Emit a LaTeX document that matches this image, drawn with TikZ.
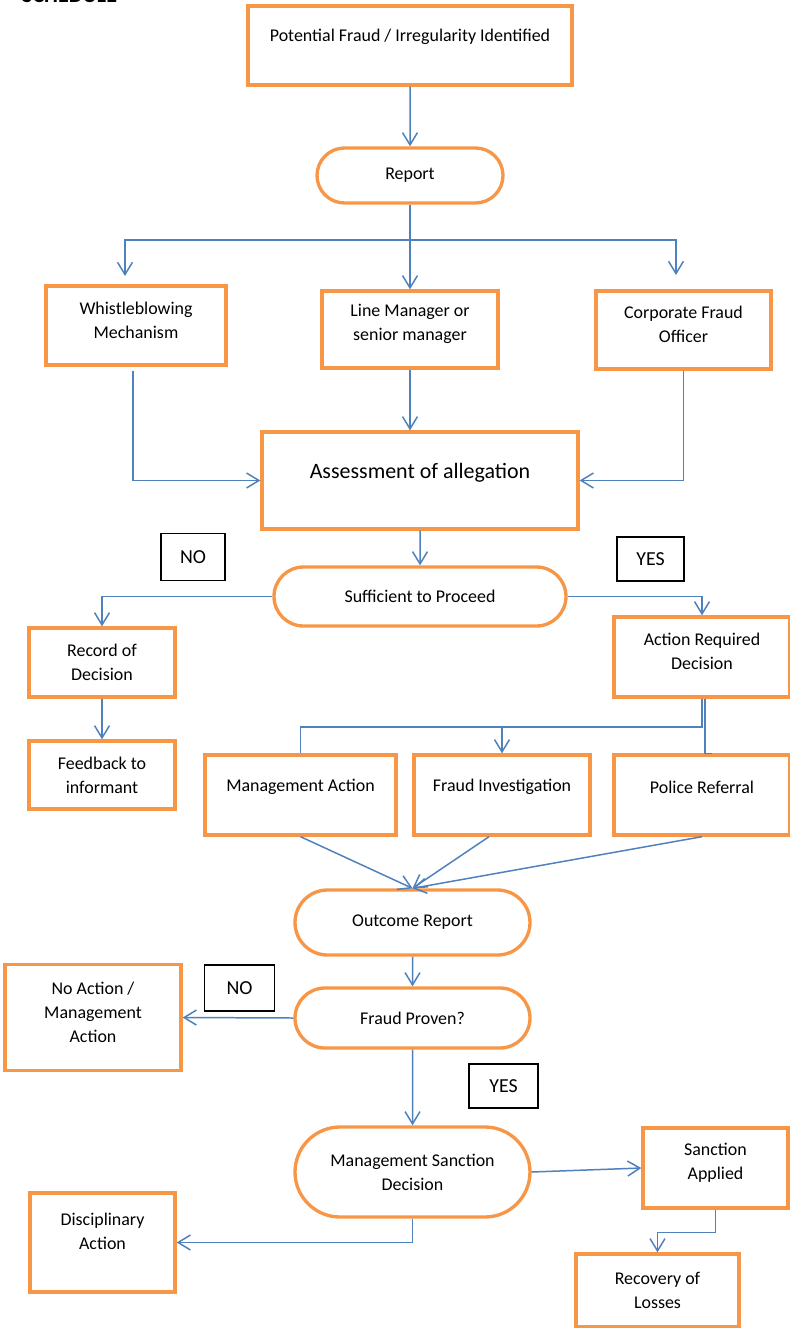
\documentclass[tikz,border=0pt]{standalone}
\usepackage{fontspec}
\setmainfont{Carlito}
\usepackage{xcolor}
\definecolor{boxorange}{HTML}{F79646}
\definecolor{linkblue}{HTML}{4F81BD}
\usepackage{tikz}
\usetikzlibrary{positioning, arrows.meta, shapes.misc}

\tikzset{
  box/.style={draw=boxorange, line width=1.9pt, inner sep=0pt},
  stadium/.style={box, rounded rectangle, txt},
  tag/.style={draw=black, line width=0.8pt, inner sep=0pt, font=\fontsize{11.3}{13}\selectfont},
  txt/.style={align=center, font=\fontsize{10.2}{13.6}\selectfont},
  bigtxt/.style={align=center, font=\fontsize{12.5}{15}\selectfont},
  link/.style={draw=linkblue, line width=0.85pt},
  arr/.style={link, -{Straight Barb[length=7pt, width=8.5pt]}}
}

\begin{document}
\begin{tikzpicture}[x=0.02cm, y=-0.02cm]
  \def\pw{0.02cm}
  \useasboundingbox (0,0) rectangle (790,1328);
  \node[anchor=base west, font=\bfseries\fontsize{12.5}{15}\selectfont] (title) at (16,3) {SCHEDULE};

  % top part
  \node[box, minimum width=324*\pw, minimum height=79*\pw,
        label={[txt, yshift=8.5*\pw]center:Potential Fraud / Irregularity Identified}] (potential) at (410,45.5) {};
  \node[stadium, minimum width=186*\pw, minimum height=55*\pw] (report) at (410,175.5) {Report};
  \node[box, minimum width=180*\pw, minimum height=79*\pw,
        label={[txt, yshift=5.5*\pw]center:Whistleblowing\\Mechanism}] (whistle) at (136,325.5) {};
  \node[box, minimum width=176*\pw, minimum height=77*\pw,
        label={[txt, yshift=5.5*\pw]center:Line Manager or\\senior manager}] (linemgr) at (410,329.5) {};
  \node[box, minimum width=175*\pw, minimum height=78*\pw,
        label={[txt, yshift=6*\pw]center:Corporate Fraud\\Officer}] (corporate) at (683.5,330) {};
  \node[box, minimum width=316*\pw, minimum height=97*\pw,
        label={[bigtxt, yshift=8*\pw]center:Assessment of allegation}] (assess) at (420,480.5) {};

  \coordinate (split) at (410,240);
  \coordinate (wtip) at (125,276);
  \coordinate (ctip) at (676,275);
  \draw[arr] (potential) -- (report);
  \draw[arr] (report.south) -- (linemgr.north);
  \draw[arr] (split) -| (wtip);
  \draw[arr] (split) -| (ctip);
  \draw[arr] ([xshift=-3*\pw, yshift=-4*\pw]whistle.south) |- (assess.west);
  \draw[arr] (linemgr.south) -- (linemgr.south |- assess.north);
  \draw[arr] (corporate.south) |- (assess.east);

  % first decision
  \node[stadium, minimum width=292*\pw, minimum height=59*\pw] (sufficient) at (420,596.5) {Sufficient to Proceed};
  \node[tag, minimum width=64*\pw, minimum height=47*\pw] (no1) at (193,557) {NO};
  \node[tag, minimum width=67*\pw, minimum height=44*\pw] (yes1) at (650.5,559) {YES};
  \node[box, txt, minimum width=146*\pw, minimum height=69*\pw] (record) at (102,662.5) {Record of\\Decision};
  \node[box, txt, minimum width=146*\pw, minimum height=68*\pw] (feedback) at (102,775) {Feedback to\\informant};
  \node[box, minimum width=176*\pw, minimum height=80*\pw,
        label={[txt, yshift=6*\pw]center:Action Required\\Decision}] (action) at (702,657) {};
  \node[box, minimum width=191*\pw, minimum height=80*\pw,
        label={[txt, yshift=8*\pw]center:Management Action}] (mgmt) at (300.5,795) {};
  \node[box, minimum width=176*\pw, minimum height=80*\pw,
        label={[txt, yshift=8*\pw]center:Fraud Investigation}] (fraudinv) at (502,795) {};
  \node[box, minimum width=176*\pw, minimum height=80*\pw,
        label={[txt, yshift=8*\pw]center:Police Referral}] (police) at (702,795) {};

  \coordinate (split2) at (702,727);
  \draw[arr] (assess) -- (sufficient);
  \draw[arr] (sufficient.west) -| (record.north);
  \draw[arr] (record) -- (feedback);
  \draw[arr] (sufficient.east) -| (action.north);
  \draw[link] (action.south) -- (split2) -| (mgmt.north);
  \draw[arr] (split2 -| fraudinv.north) -- (fraudinv.north);
  \draw[link] ([xshift=3*\pw]action.south) -- ([xshift=3*\pw]police.north) -- ++(7,0);

  % outcome
  \node[stadium, minimum width=235*\pw, minimum height=65*\pw] (outcome) at (412.5,922.5) {Outcome Report};
  \node[stadium, minimum width=235*\pw, minimum height=60*\pw] (proven) at (412.5,1018) {Fraud Proven?};
  \node[tag, minimum width=70*\pw, minimum height=46*\pw] (no2) at (239.5,988) {NO};
  \node[tag, minimum width=69*\pw, minimum height=44*\pw] (yes2) at (503.5,1086) {YES};
  \node[box, minimum width=176*\pw, minimum height=106*\pw,
        label={[txt, yshift=5.5*\pw]center:No Action /\\Management\\Action}] (noaction) at (93,1017.5) {};

  \draw[arr] (mgmt.south) -- (outcome.north);
  \draw[arr] ([xshift=-13*\pw]fraudinv.south) -- (outcome.north);
  \draw[arr] (police.south) -- (outcome.north);
  \draw[arr] (outcome) -- (proven);
  \draw[arr] (proven.west) -- (noaction.east);

  % sanctions
  \node[stadium, minimum width=235*\pw, minimum height=90*\pw] (msd) at (412.5,1172) {Management Sanction\\Decision};
  \node[box, minimum width=145*\pw, minimum height=80*\pw,
        label={[txt, yshift=5.5*\pw]center:Sanction\\Applied}] (sanction) at (715.5,1168) {};
  \node[box, minimum width=145*\pw, minimum height=99*\pw,
        label={[txt, yshift=11.5*\pw]center:Disciplinary\\Action}] (disc) at (102.5,1242.5) {};
  \node[box, txt, minimum width=163*\pw, minimum height=73*\pw] (recovery) at (657.5,1290.5) {Recovery of\\Losses};

  \draw[arr] (proven) -- (msd);
  \draw[arr] (msd.east) -- (sanction.west);
  \draw[arr] (msd.south) |- (disc.east);
  \draw[arr] (sanction.south) -- ++(0,23) -| (recovery.north);
\end{tikzpicture}
\end{document}
